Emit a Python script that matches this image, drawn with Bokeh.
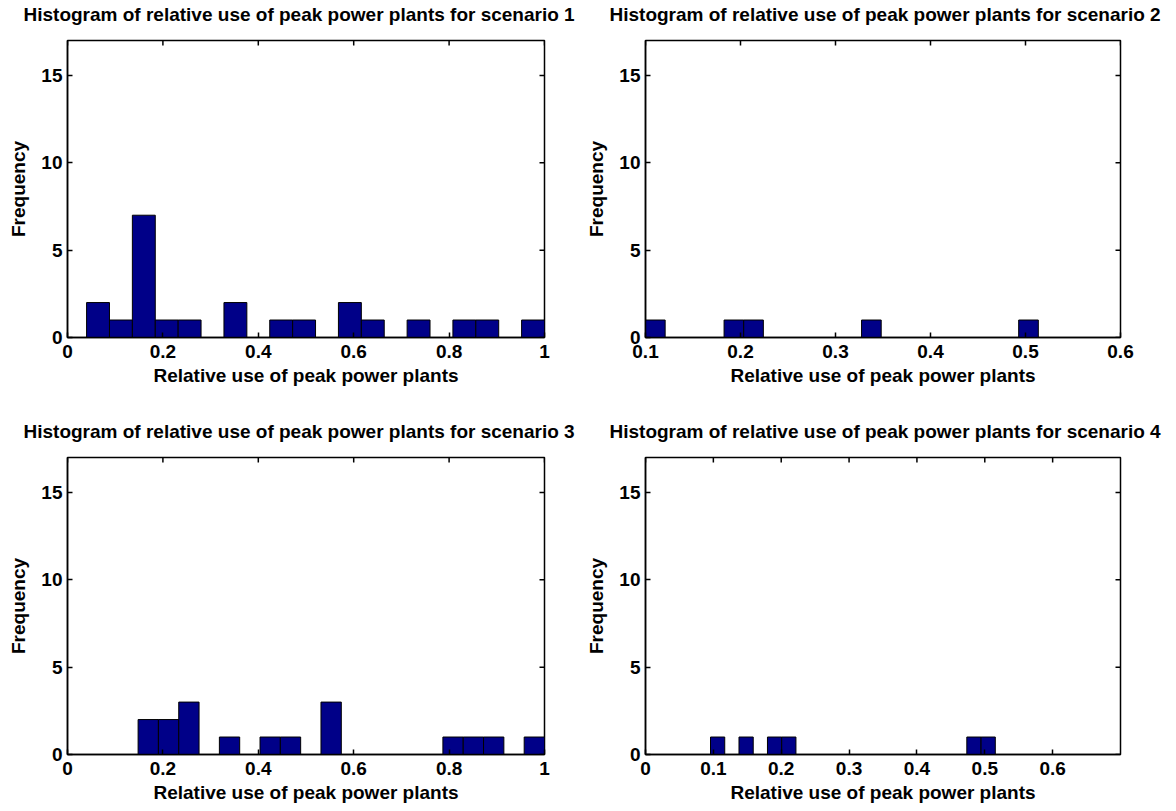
import math
import numpy as np
from bokeh.plotting import figure
from bokeh.layouts import row, column
from bokeh.models import FixedTicker, CustomJSTickFormatter, Range1d, ColumnDataSource
from bokeh.embed import file_html
from bokeh.resources import INLINE

# ---- data (20-bin histograms) ----
titles = ["Histogram of relative use of peak power plants for scenario 1",
          "Histogram of relative use of peak power plants for scenario 2",
          "Histogram of relative use of peak power plants for scenario 3",
          "Histogram of relative use of peak power plants for scenario 4"]
x_label = "Relative use of peak power plants"
y_label = "Frequency"

s1_lo, s1_hi = 0.04, 1.0
s1_counts = [2, 1, 7, 1, 1, 0, 2, 0, 1, 1, 0, 2, 1, 0, 1, 0, 1, 1, 0, 1]
s2_lo, s2_hi = 0.1, 0.5135
s2_counts = [1, 0, 0, 0, 1, 1, 0, 0, 0, 0, 0, 1, 0, 0, 0, 0, 0, 0, 0, 1]
s3_lo, s3_hi = 0.148, 1.0
s3_counts = [2, 2, 3, 0, 1, 0, 1, 1, 0, 3, 0, 0, 0, 0, 0, 1, 1, 1, 0, 1]
s4_lo, s4_hi = 0.0958, 0.5155
s4_counts = [1, 0, 1, 0, 1, 1, 0, 0, 0, 0, 0, 0, 0, 0, 0, 0, 0, 0, 1, 1]

x_ranges = [(0, 1), (0.1, 0.6), (0, 1), (0, 0.7)]
x_ticks = [[0, 0.2, 0.4, 0.6, 0.8, 1],
           [0.1, 0.2, 0.3, 0.4, 0.5, 0.6],
           [0, 0.2, 0.4, 0.6, 0.8, 1],
           [0, 0.1, 0.2, 0.3, 0.4, 0.5, 0.6]]
y_range = (0, 17)
y_ticks = [0, 5, 10, 15]

FONT = "Liberation Sans"
FS = "19px"
BAR = "#000088"
fmt_code = "return (Math.round(tick*1000)/1000).toString();"


def make_panel(i, lo, hi, counts, width, height, bl, br, bt, bb, title_offset):
    xr = x_ranges[i]
    p = figure(width=width, height=height, output_backend="svg", toolbar_location=None,
               x_range=Range1d(*xr), y_range=Range1d(*y_range),
               min_border_left=bl, min_border_right=br, min_border_top=bt,
               min_border_bottom=bb)
    edges = np.linspace(lo, hi, len(counts) + 1)
    src = ColumnDataSource(dict(left=edges[:-1], right=edges[1:],
                                top=counts, bottom=[0] * len(counts)))
    p.quad(left="left", right="right", top="top", bottom="bottom", source=src,
           fill_color=BAR, line_color="black", line_width=1)

    p.title.text = titles[i]
    p.title.align = "left"
    p.title.offset = title_offset
    p.title.vertical_align = "top"
    p.title.standoff = 28
    p.title.text_font = FONT
    p.title.text_font_size = FS
    p.title.text_font_style = "bold"
    p.title.text_color = "black"

    p.grid.visible = False
    p.outline_line_color = "black"
    p.outline_line_width = 1.5
    p.background_fill_color = "white"
    p.border_fill_color = "white"

    xt = FixedTicker(ticks=x_ticks[i], minor_ticks=[])
    yt = FixedTicker(ticks=y_ticks, minor_ticks=[])
    for ax, tk in ((p.xaxis[0], xt), (p.yaxis[0], yt)):
        ax.ticker = tk
        ax.formatter = CustomJSTickFormatter(code=fmt_code)
        ax.major_tick_in = 5
        ax.major_tick_out = 0
        ax.minor_tick_line_color = None
        ax.axis_line_width = 1.5
        ax.major_tick_line_width = 1.5
        ax.major_label_text_font = FONT
        ax.major_label_text_font_size = FS
        ax.major_label_text_font_style = "bold"
        ax.major_label_text_color = "black"
        ax.axis_label_text_font = FONT
        ax.axis_label_text_font_size = FS
        ax.axis_label_text_font_style = "bold"
        ax.axis_label_text_color = "black"
    p.xaxis[0].axis_label = x_label
    p.yaxis[0].axis_label = y_label
    p.xaxis[0].major_label_standoff = 7
    p.xaxis[0].axis_label_standoff = 4
    p.yaxis[0].major_label_standoff = 5
    p.yaxis[0].axis_label_standoff = 9

    # inward tick marks on the top and right edges of the box
    xt_list = x_ticks[i]
    p.ray(x=xt_list, y=[y_range[1]] * len(xt_list), length=5, length_units="screen",
          angle=-math.pi / 2, line_color="black", line_width=1.5)
    p.ray(x=[xr[1]] * len(y_ticks), y=y_ticks, length=5, length_units="screen",
          angle=math.pi, line_color="black", line_width=1.5)
    return p


p1 = make_panel(0, s1_lo, s1_hi, s1_counts, 578, 417, 67, 34, 52, 68, -44)
p2 = make_panel(1, s2_lo, s2_hi, s2_counts, 596, 417, 67, 54, 52, 68, -36)
p3 = make_panel(2, s3_lo, s3_hi, s3_counts, 578, 406, 67, 34, 52, 57, -44)
p4 = make_panel(3, s4_lo, s4_hi, s4_counts, 596, 406, 67, 54, 52, 57, -36)

layout = column(row(p1, p2), row(p3, p4), margin=(-12, 0, 0, 0))
open("out.html", "w").write(file_html(layout, INLINE))
